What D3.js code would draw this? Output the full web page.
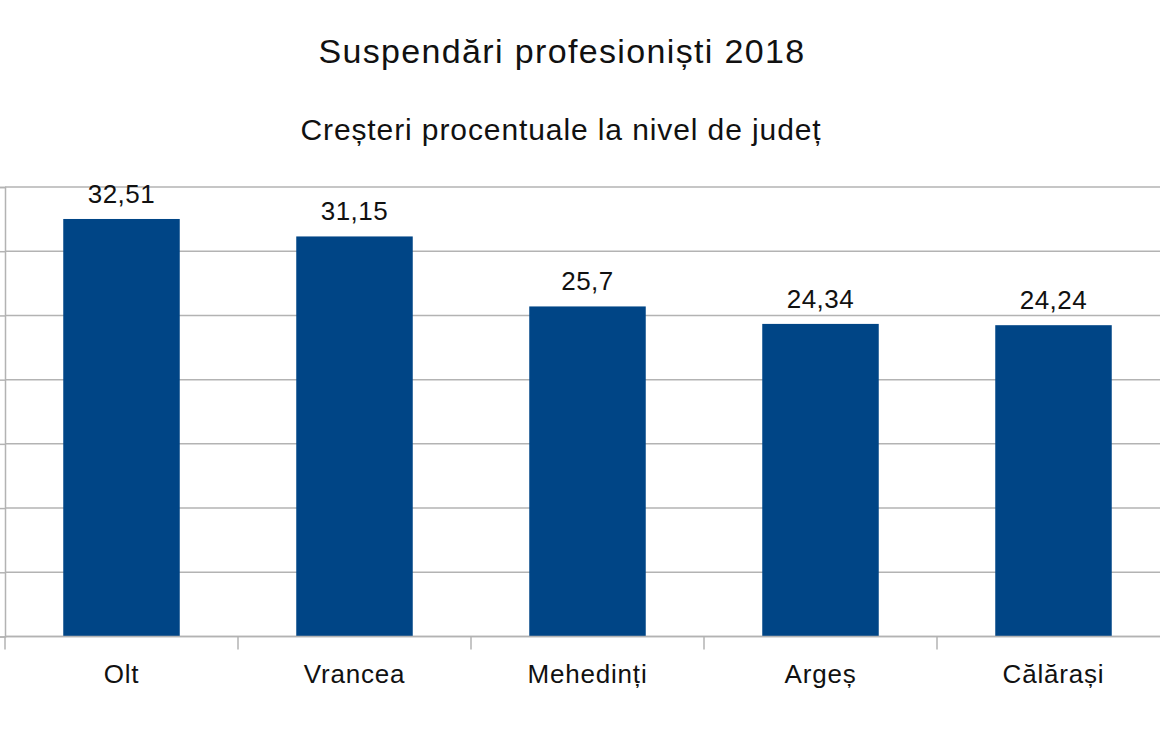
<!DOCTYPE html>
<html>
<head>
<meta charset="utf-8">
<script src="https://cdn.jsdelivr.net/npm/d3@7"></script>
<style>
  body { margin: 0; background: #fff; }
  text { font-family: "Liberation Sans", Arial, sans-serif; fill: #111; }
</style>
</head>
<body>
<div id="chart"></div>
<script>
const counties = ['Olt', 'Vrancea', 'Mehedinți', 'Argeș', 'Călărași'];
const increases = [32.51, 31.15, 25.7, 24.34, 24.24];
const yTicks = [0, 5, 10, 15, 20, 25, 30, 35];

const title = 'Suspendări profesioniști 2018';
const subtitle = 'Creșteri procentuale la nivel de județ';

const width = 1160, height = 750;
const plot = { left: 5, right: 1170, top: 187, bottom: 636.5 };

const svg = d3.select('#chart')
              .append('svg')
              .attr('width', width)
              .attr('height', height);

const x = d3.scaleBand()
            .domain(counties)
            .range([plot.left, plot.right])
            .paddingInner(0.5)
            .paddingOuter(0.25);

const y = d3.scaleLinear()
            .domain([0, 35])
            .range([plot.bottom, plot.top]);

// Horizontal gridlines.
svg.append('g')
   .selectAll('line')
   .data(yTicks)
   .enter()
   .append('line')
   .attr('x1', plot.left)
   .attr('x2', plot.right)
   .attr('y1', d => y(d))
   .attr('y2', d => y(d))
   .attr('stroke', '#b3b3b3')
   .attr('stroke-width', 1.5);

// Y-axis line with short ticks to the left (labels are cut off in the picture).
svg.append('g')
   .attr('transform', `translate(${plot.left}, 0)`)
   .call(d3.axisLeft(y).tickValues(yTicks).tickSize(6).tickFormat(''))
   .call(g => g.selectAll('path, line').attr('stroke', '#b3b3b3').attr('stroke-width', 1.5));

// Bars.
svg.append('g')
   .selectAll('rect')
   .data(counties)
   .enter()
   .append('rect')
   .attr('x', d => x(d))
   .attr('y', (d, i) => y(increases[i]))
   .attr('width', x.bandwidth())
   .attr('height', (d, i) => y(0) - y(increases[i]))
   .attr('fill', '#004586');

// X-axis: baseline and ticks at category boundaries.
const step = x.step();
const boundaries = d3.range(counties.length + 1).map(i => plot.left + i * step);

svg.append('line')
   .attr('x1', plot.left)
   .attr('x2', plot.right)
   .attr('y1', plot.bottom)
   .attr('y2', plot.bottom)
   .attr('stroke', '#b3b3b3')
   .attr('stroke-width', 1.5);

svg.append('g')
   .selectAll('line')
   .data(boundaries)
   .enter()
   .append('line')
   .attr('x1', d => d)
   .attr('x2', d => d)
   .attr('y1', plot.bottom)
   .attr('y2', plot.bottom + 13)
   .attr('stroke', '#b3b3b3')
   .attr('stroke-width', 1.5);

// Category labels.
svg.append('g')
   .selectAll('text')
   .data(counties)
   .enter()
   .append('text')
   .attr('x', d => x(d) + x.bandwidth() / 2)
   .attr('y', 683)
   .attr('text-anchor', 'middle')
   .style('font-size', '26px')
   .style('letter-spacing', '0.8px')
   .text(d => d);

// Value labels above bars.
svg.append('g')
   .selectAll('text')
   .data(counties)
   .enter()
   .append('text')
   .attr('x', d => x(d) + x.bandwidth() / 2)
   .attr('y', (d, i) => y(increases[i]) - 16)
   .attr('text-anchor', 'middle')
   .style('font-size', '26px')
   .style('letter-spacing', '0.5px')
   .text((d, i) => String(increases[i]).replace('.', ','));

// Titles.
svg.append('text')
   .attr('x', 562)
   .attr('y', 63)
   .attr('text-anchor', 'middle')
   .style('font-size', '34px')
   .style('letter-spacing', '1.35px')
   .text(title);

svg.append('text')
   .attr('x', 561)
   .attr('y', 140)
   .attr('text-anchor', 'middle')
   .style('font-size', '30px')
   .style('letter-spacing', '0.9px')
   .text(subtitle);
</script>
</body>
</html>
